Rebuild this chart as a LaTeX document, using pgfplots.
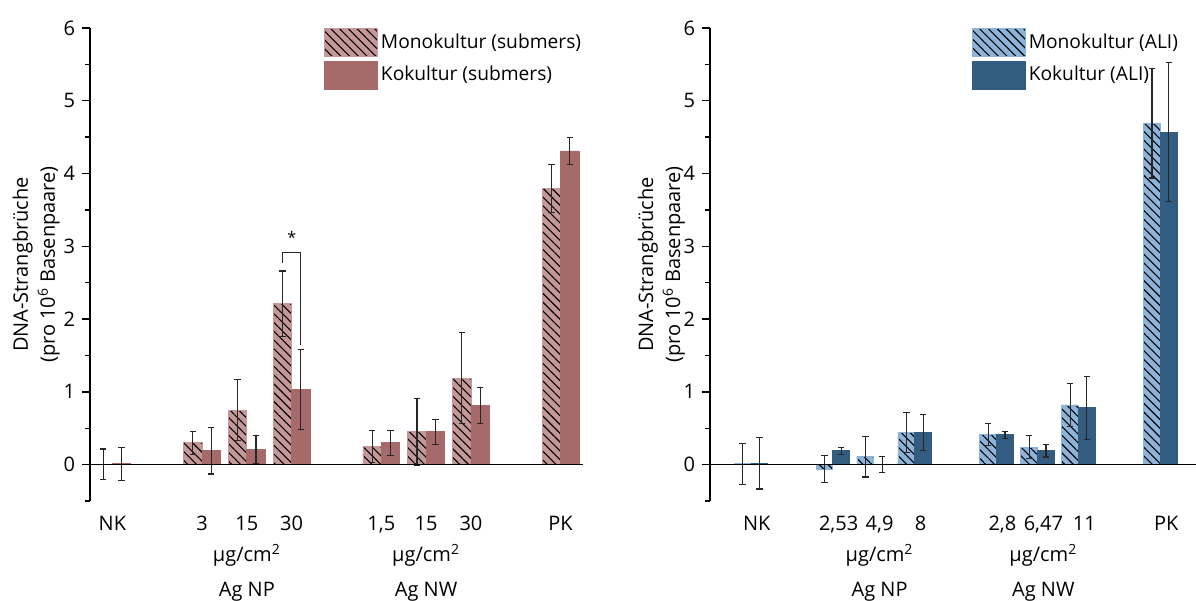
\documentclass[border=0pt]{standalone}
\usepackage{fontspec}
\setmainfont{Open Sans}
\usepackage{pgfplots}
\usepackage{pgfplotstable}
\pgfplotsset{compat=1.18}
\usetikzlibrary{patterns.meta}

\definecolor{monoR}{HTML}{C49898}
\definecolor{koR}{HTML}{A66A6A}
\definecolor{monoB}{HTML}{8DB4D8}
\definecolor{koB}{HTML}{325D80}
\definecolor{errc}{HTML}{262626}

\pgfplotstableread{
x mono em ko ek
0 0.005 0.21 0.01 0.23
2 0.30 0.16 0.19 0.32
3 0.75 0.42 0.21 0.19
4 2.21 0.45 1.03 0.55
6 0.25 0.22 0.30 0.17
7 0.45 0.46 0.45 0.17
8 1.19 0.63 0.81 0.245
10 3.79 0.33 4.31 0.19
}\subdata

\pgfplotstableread{
x mono em ko ek
0 0.01 0.28 0.02 0.355
2 -0.06 0.19 0.19 0.05
3 0.11 0.28 0.005 0.11
4 0.445 0.275 0.44 0.25
6 0.41 0.15 0.41 0.05
7 0.24 0.155 0.19 0.085
8 0.82 0.295 0.78 0.43
10 4.69 0.75 4.57 0.955
}\alidata

\pgfplotsset{
  panel/.style={
    scale only axis, height=236.5bp,
    ymin=-0.5, ymax=6, ytick={0,1,...,6}, minor ytick={-0.5,0.5,...,5.5},
    axis y line*=left, axis x line*=bottom,
    axis line style={-},
    x axis line style={draw=none},
    y axis line style={line width=0.8bp, black},
    xtick={0,2,3,4,6,7,8,10},
    xtick style={draw=none},
    ytick style={line width=0.7bp, black},
    minor tick style={line width=0.7bp, black},
    tick align=outside,
    major tick length=4bp, minor tick length=2.5bp,
    ybar, bar width=0.41,
    clip=false,
    tick label style={font=\fontsize{10bp}{11bp}\selectfont},
    /pgf/number format/assume math mode=true,
    ylabel={DNA-Strangbrüche\\(pro 10\textsuperscript{6} Basenpaare)},
    legend cell align=left,
    legend style={draw=none, fill=none, inner sep=0pt, outer sep=0pt,
      row sep=2bp, font=\fontsize{9.6bp}{11bp}\selectfont,
      nodes={inner sep=1.5bp}},
  },
  errs/.style={error bars/.cd, y dir=both, y explicit,
    error bar style={line width=0.6bp, draw=errc},
    error mark options={rotate=90, mark size=1.6bp, line width=0.6bp, draw=errc}},
  legbox/.style={legend image code/.code={\draw[##1] (0bp,-7bp) rectangle (26.5bp,7bp);}},
  hatch/.style={postaction={pattern={Lines[angle=-45,distance=3.1bp,line width=0.55bp]}}},
}

\begin{document}
\begin{tikzpicture}
\begin{axis}[panel, width=246.5bp, xmin=-0.5, xmax=10.5,
  xticklabels={NK,3,15,30,{1,5},15,30,PK},
  ylabel style={at={(rel axis cs:-0.047,0.5)}, anchor=south, align=center,
    font=\fontsize{10bp}{13.5bp}\selectfont},
  legend style={at={(rel axis cs:0.475,1.0)}, anchor=north west}]
\addplot[bar shift=-0.205, fill=monoR, draw=monoR, hatch, legbox, errs]
  table[x=x, y=mono, y error=em] {\subdata};
\addlegendentry{Monokultur (submers)}
\addplot[bar shift=0.205, fill=koR, draw=koR, legbox, errs]
  table[x=x, y=ko, y error=ek] {\subdata};
\addlegendentry{Kokultur (submers)}
\addplot[sharp plot, black, line width=0.8bp, forget plot] coordinates {(-0.5,0) (10.5,0)};
\addplot[sharp plot, errc, line width=0.6bp, forget plot] coordinates {(3.8,2.77) (3.8,2.92) (4.2,2.92) (4.2,1.65)};
\node[font=\fontsize{8bp}{8bp}\selectfont] at (axis cs:4,3.12) {*};
\node[font=\fontsize{10bp}{11bp}\selectfont] at (axis cs:3,-1.25) {µg/cm\textsuperscript{2}};
\node[font=\fontsize{10bp}{11bp}\selectfont] at (axis cs:3,-1.75) {Ag NP};
\node[font=\fontsize{10bp}{11bp}\selectfont] at (axis cs:7,-1.25) {µg/cm\textsuperscript{2}};
\node[font=\fontsize{10bp}{11bp}\selectfont] at (axis cs:7,-1.75) {Ag NW};
\end{axis}

\begin{axis}[panel, at={(310bp,0)}, width=243bp, xmin=-1, xmax=10.87,
  xticklabels={NK,{2,53},{4,9},8,{2,8},{6,47},11,PK},
  xticklabel style={xshift=2.9bp},
  ylabel style={at={(rel axis cs:-0.037,0.5)}, anchor=south, align=center,
    font=\fontsize{10bp}{13.5bp}\selectfont},
  legend style={at={(rel axis cs:0.539,1.0)}, anchor=north west}]
\addplot[bar shift=-0.205, fill=monoB, draw=monoB, hatch, legbox, errs]
  table[x=x, y=mono, y error=em] {\alidata};
\addlegendentry{Monokultur (ALI)}
\addplot[bar shift=0.205, fill=koB, draw=koB, legbox, errs]
  table[x=x, y=ko, y error=ek] {\alidata};
\addlegendentry{Kokultur (ALI)}
\addplot[sharp plot, black, line width=0.8bp, forget plot] coordinates {(-1,0) (10.87,0)};
\node[font=\fontsize{10bp}{11bp}\selectfont, xshift=2.9bp] at (axis cs:3,-1.25) {µg/cm\textsuperscript{2}};
\node[font=\fontsize{10bp}{11bp}\selectfont, xshift=2.9bp] at (axis cs:3,-1.75) {Ag NP};
\node[font=\fontsize{10bp}{11bp}\selectfont, xshift=2.9bp] at (axis cs:7,-1.25) {µg/cm\textsuperscript{2}};
\node[font=\fontsize{10bp}{11bp}\selectfont, xshift=2.9bp] at (axis cs:7,-1.75) {Ag NW};
\end{axis}
\pgfresetboundingbox
\path (-45bp,-50bp) rectangle (553bp,250.5bp);
\end{tikzpicture}
\end{document}
